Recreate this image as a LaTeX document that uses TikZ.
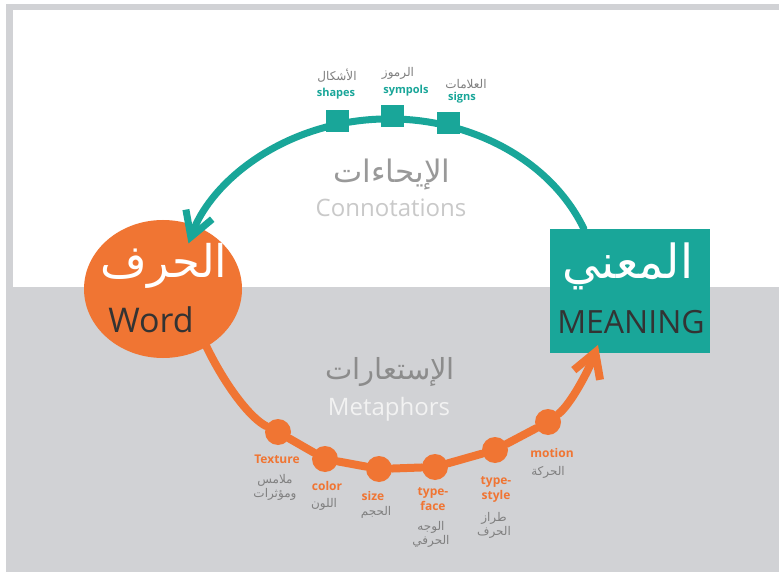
\documentclass[tikz,border=0pt]{standalone}
\usepackage{fontspec}
\setmainfont{Open Sans}
\newfontfamily\arabicfont[Script=Arabic]{DejaVu Sans}
\TeXXeTstate=1
\usetikzlibrary{arrows.meta,shapes.geometric}
\definecolor{qqttzz}{rgb}{0.1,0.65,0.6}
\definecolor{ffttqq}{rgb}{0.94,0.46,0.2}
\definecolor{ccccdd}{rgb}{0.82,0.824,0.835}
\definecolor{ttttww}{rgb}{0.5,0.5,0.5}
\definecolor{cccccc}{rgb}{0.79,0.79,0.79}
\definecolor{wwwwww}{rgb}{0.2,0.2,0.2}

\begin{document}
\begin{tikzpicture}[line cap=round,line join=round,x=1pt,y=-1pt,
  tealsq/.style={fill=qqttzz,minimum width=23pt,minimum height=22pt,inner sep=0pt},
  dot/.style={circle,fill=ffttqq,minimum size=26pt,inner sep=0pt},
  ar/.style={font=\arabicfont\fontsize{12}{14}\selectfont,text=ttttww,align=center,inner sep=0pt},
  tlab/.style={font=\bfseries\fontsize{11}{13}\selectfont,text=qqttzz,inner sep=0pt},
  olab/.style={font=\bfseries\fontsize{12}{15}\selectfont,text=ffttqq,align=center,inner sep=0pt},
  tline/.style={line width=7pt,color=qqttzz,-{Straight Barb[length=24pt,width=28pt]}},
  oline/.style={line width=8pt,color=ffttqq,-{Straight Barb[length=24pt,width=28pt]}}]
\useasboundingbox (0,0) rectangle (779,572);
\fill[white] (0,0) rectangle (779,572);
\fill[ccccdd] (6,4) rectangle (779,572);
\fill[white] (13,10) rectangle (779,287);
\node[ellipse,fill=ffttqq,minimum width=158pt,minimum height=138pt,inner sep=0pt] (word) at (163,289) {};
\node[fill=qqttzz,minimum width=160pt,minimum height=124pt,inner sep=0pt] (meaning) at (630,291) {};
\coordinate (tstart) at (584,229);
\coordinate (otip) at (598,345);
\draw[tline] (tstart) arc[start angle=-22,end angle=-163,x radius=210,y radius=176];
\node[tealsq] (shapessq) at (337,121) {};
\node[tealsq] (sympolssq) at (392,116) {};
\node[tealsq] (signssq) at (448,123) {};
\node[dot] (texture) at (278,432) {};
\node[dot] (color) at (325,459) {};
\node[dot] (size) at (379,469) {};
\node[dot] (typeface) at (435,467) {};
\node[dot] (typestyle) at (495,450) {};
\node[dot] (motion) at (548,422) {};
\draw[oline] (word.-53) .. controls (225,385) and (250,418) .. (texture) -- (color) -- (size) -- (typeface) -- (typestyle) -- (motion) .. controls (570,405) and (588,372) .. (otip);
\node[font=\arabicfont\fontsize{45}{45}\selectfont,text=white] (wordar) at (164,266) {\beginR الحرف\endR};
\node[font=\fontsize{34}{34}\selectfont,text=wwwwww] (wordtx) at (151,320) {Word};
\node[font=\arabicfont\fontsize{47}{47}\selectfont,text=white] (meaningar) at (628,266) {\beginR المعني\endR};
\node[font=\fontsize{32}{32}\selectfont,text=wwwwww] (meaningtx) at (631,322) {MEANING};
\node[font=\arabicfont\fontsize{31}{31}\selectfont,text=ttttww!80] (connar) at (392,175) {\beginR الإيحاءات\endR};
\node[font=\fontsize{24}{24}\selectfont,text=cccccc] (conntx) at (391,208) {Connotations};
\node[font=\arabicfont\fontsize{29}{29}\selectfont,text=ttttww!90] (metaar) at (390,372) {\beginR الإستعارات\endR};
\node[font=\fontsize{24}{24}\selectfont,text=white!95!black] (metatx) at (389,409) {Metaphors};
\node[ar] (shapesar) at (337,76) {\beginR الأشكال\endR};
\node[tlab] (shapes) at (336,94) {shapes};
\node[ar] (sympolsar) at (398,73) {\beginR الرموز\endR};
\node[tlab] (sympols) at (406,91) {sympols};
\node[ar] (signsar) at (466,84) {\beginR العلامات\endR};
\node[tlab] (signs) at (462,98) {signs};
\node[olab] (texturetx) at (277,459) {Texture};
\node[ar] (texturear) at (275,487) {\beginR ملامس\endR\\\beginR ومؤثرات\endR};
\node[olab] (colortx) at (327,486) {color};
\node[ar] (colorar) at (324,504) {\beginR اللون\endR};
\node[olab] (sizetx) at (373,496) {size};
\node[ar] (sizear) at (376,512) {\beginR الحجم\endR};
\node[olab] (typefacetx) at (433,499) {type-\\face};
\node[ar] (typefacear) at (431,534) {\beginR الوجه\endR\\\beginR الحرفي\endR};
\node[olab] (typestyletx) at (496,489) {type-\\style};
\node[ar] (typestylear) at (494,525) {\beginR طراز\endR\\\beginR الحرف\endR};
\node[olab] (motiontx) at (552,453) {motion};
\node[ar] (motionar) at (548,472) {\beginR الحركة\endR};
\end{tikzpicture}
\end{document}
